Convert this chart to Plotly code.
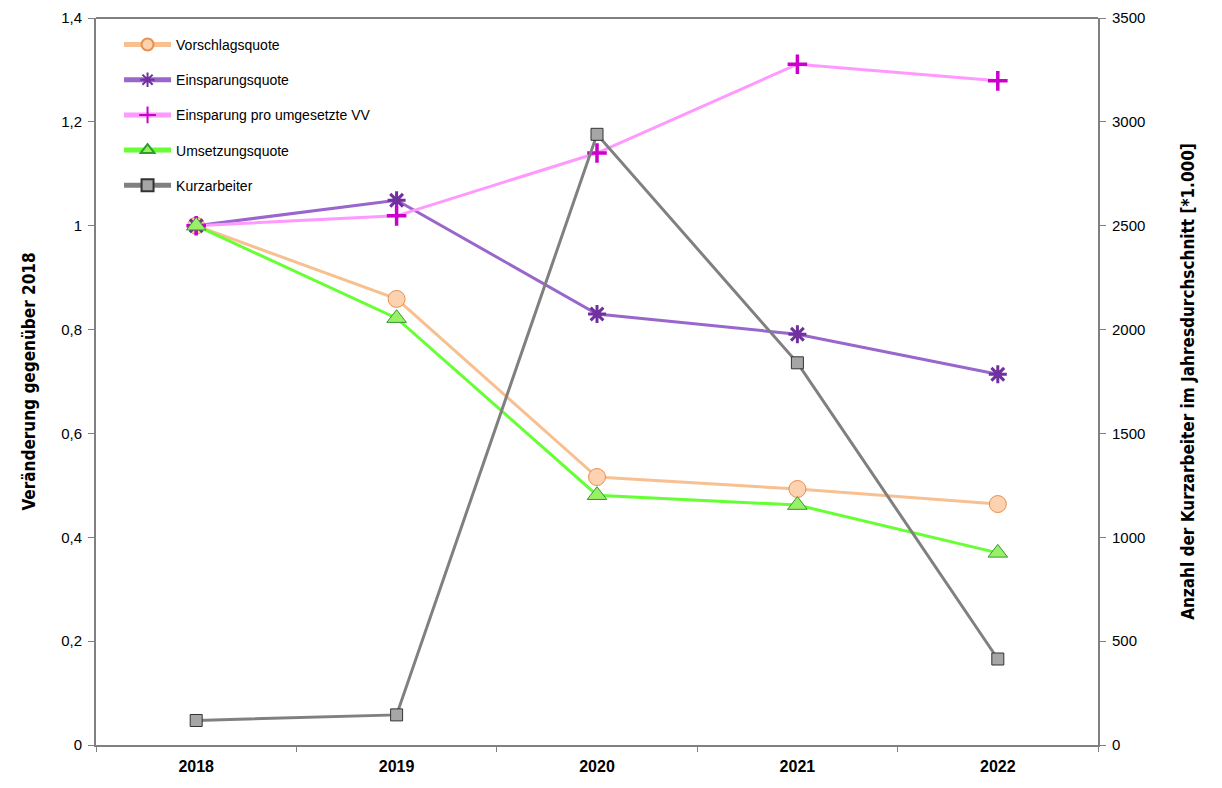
import plotly.graph_objects as go

years = ["2018", "2019", "2020", "2021", "2022"]
vorschlagsquote = [1.0, 0.859, 0.516, 0.493, 0.464]
einsparungsquote = [1.0, 1.049, 0.830, 0.791, 0.714]
einsparung_pro_vv = [1.0, 1.019, 1.140, 1.311, 1.279]
umsetzungsquote = [1.0, 0.822, 0.481, 0.462, 0.370]
kurzarbeiter = [118, 145, 2940, 1840, 414]

left_ticks = [0, 0.2, 0.4, 0.6, 0.8, 1.0, 1.2, 1.4]
left_ticktext = ["0", "0,2", "0,4", "0,6", "0,8", "1", "1,2", "1,4"]
right_ticks = [0, 500, 1000, 1500, 2000, 2500, 3000, 3500]

BASE = "Liberation Sans, Arial, sans-serif"
NARROW = "Liberation Sans Narrow, Arial Narrow, DejaVu Sans Condensed, Liberation Sans, sans-serif"

fig = go.Figure()

fig.add_trace(go.Scatter(
    x=years, y=vorschlagsquote, name="Vorschlagsquote", legendgroup="a",
    mode="lines+markers",
    line=dict(color="#F8C090", width=3),
    marker=dict(symbol="circle", size=17, color="#FCD2B0",
                line=dict(color="#E8904F", width=1)),
))
fig.add_trace(go.Scatter(
    x=years, y=einsparungsquote, name="Einsparungsquote", legendgroup="b",
    mode="lines+markers",
    line=dict(color="#9966CC", width=3),
    marker=dict(symbol="asterisk-open", size=15, color="#7030A0",
                line=dict(color="#7030A0", width=3)),
))
fig.add_trace(go.Scatter(
    x=years, y=einsparung_pro_vv, name="Einsparung pro umgesetzte VV", legendgroup="c",
    mode="lines+markers",
    line=dict(color="#FF99FF", width=3),
    marker=dict(symbol="cross-thin-open", size=14, color="#CC00CC",
                line=dict(color="#CC00CC", width=3.5)),
))
fig.add_trace(go.Scatter(
    x=years, y=umsetzungsquote, name="Umsetzungsquote", legendgroup="d",
    mode="lines+markers",
    line=dict(color="#66FF33", width=3),
    marker=dict(symbol="triangle-up", size=17, color="#99F066",
                line=dict(color="#339933", width=1)),
))
fig.add_trace(go.Scatter(
    x=years, y=kurzarbeiter, name="Kurzarbeiter", legendgroup="e",
    mode="lines+markers", yaxis="y2",
    line=dict(color="#808080", width=3),
    marker=dict(symbol="square", size=12, color="#A6A6A6",
                line=dict(color="#333333", width=1)),
))

fig.update_layout(
    width=1214, height=780,
    margin=dict(l=88, r=124, t=10, b=43),
    paper_bgcolor="white", plot_bgcolor="white",
    font=dict(family=BASE, size=14, color="black"),
    showlegend=True,
    legend=dict(
        x=0.023, y=0.985, xanchor="left", yanchor="top",
        bgcolor="rgba(0,0,0,0)", borderwidth=0,
        tracegroupgap=14, traceorder="grouped",
        itemsizing="constant", itemwidth=47,
        font=dict(family=BASE, size=14, color="black"),
    ),
    xaxis=dict(
        type="category", range=[-0.5, 4.5], automargin=False,
        tickvals=years, ticktext=["<b>" + y + "</b>" for y in years],
        tickson="boundaries", ticks="outside", ticklen=5,
        tickcolor="#808080", tickwidth=1, ticklabelstandoff=6,
        showline=True, linecolor="#808080", linewidth=2,
        showgrid=False, zeroline=False,
        tickfont=dict(family=BASE, size=16, color="black"),
    ),
    yaxis=dict(
        range=[0, 1.4], tickvals=left_ticks, ticktext=left_ticktext,
        automargin=False, ticklabelstandoff=3,
        ticks="outside", ticklen=6, tickcolor="#808080",
        showline=True, linecolor="#808080", linewidth=2,
        showgrid=False, zeroline=False,
        tickfont=dict(family=BASE, size=15, color="black"),
        title=dict(text="<b>Veränderung gegenüber 2018</b>",
                   font=dict(family=NARROW, size=17, color="black"),
                   standoff=21),
    ),
    yaxis2=dict(
        range=[0, 3500], tickvals=right_ticks,
        overlaying="y", side="right", anchor="x",
        automargin=False, ticklabelstandoff=3,
        ticks="outside", ticklen=6, tickcolor="#808080",
        showline=True, linecolor="#808080", linewidth=2,
        showgrid=False, zeroline=False,
        tickfont=dict(family=BASE, size=15, color="black"),
        title=dict(text="<b>Anzahl der Kurzarbeiter im Jahresdurchschnitt [*1.000]</b>",
                   font=dict(family=NARROW, size=17, color="black"),
                   standoff=38),
    ),
    shapes=[dict(type="line", xref="paper", yref="paper",
                 x0=0, x1=1, y0=1, y1=1,
                 line=dict(color="black", width=1), layer="below")],
)

fig.write_html("out.html")
